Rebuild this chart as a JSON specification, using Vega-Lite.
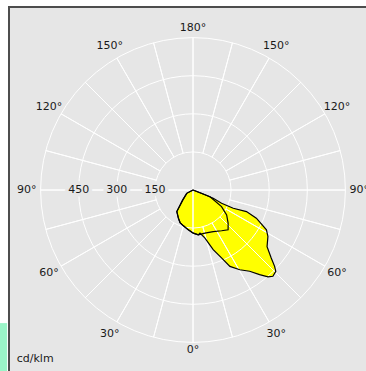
{
  "$schema": "https://vega.github.io/schema/vega-lite/v6.json",
  "width": 368,
  "height": 366,
  "autosize": "none",
  "padding": {"left": 9, "top": 7, "right": -11, "bottom": -2},
  "background": "white",
  "view": {"fill": "#e6e6e6", "stroke": "#4d4d4d", "strokeWidth": 2},
  "datasets": {
    "curves": [
      {"c": "A", "i": 0, "phi": 90, "cd": 0},
      {"c": "A", "i": 1, "phi": 68.8, "cd": 43},
      {"c": "A", "i": 2, "phi": 67.8, "cd": 86},
      {"c": "A", "i": 3, "phi": 65.1, "cd": 124},
      {"c": "A", "i": 4, "phi": 65.6, "cd": 174},
      {"c": "A", "i": 5, "phi": 68, "cd": 227},
      {"c": "A", "i": 6, "phi": 66, "cd": 273},
      {"c": "A", "i": 7, "phi": 61.5, "cd": 329},
      {"c": "A", "i": 8, "phi": 58.2, "cd": 347},
      {"c": "A", "i": 9, "phi": 52.6, "cd": 367},
      {"c": "A", "i": 10, "phi": 49, "cd": 408},
      {"c": "A", "i": 11, "phi": 46.9, "cd": 440},
      {"c": "A", "i": 12, "phi": 45.5, "cd": 457},
      {"c": "A", "i": 13, "phi": 42.8, "cd": 463},
      {"c": "A", "i": 14, "phi": 40.8, "cd": 452},
      {"c": "A", "i": 15, "phi": 38.2, "cd": 424},
      {"c": "A", "i": 16, "phi": 34.9, "cd": 390},
      {"c": "A", "i": 17, "phi": 30.4, "cd": 364},
      {"c": "A", "i": 18, "phi": 25.8, "cd": 334},
      {"c": "A", "i": 19, "phi": 22.8, "cd": 290},
      {"c": "A", "i": 20, "phi": 18.7, "cd": 248},
      {"c": "A", "i": 21, "phi": 14, "cd": 195},
      {"c": "A", "i": 22, "phi": 9.2, "cd": 172},
      {"c": "A", "i": 23, "phi": 6.7, "cd": 178},
      {"c": "A", "i": 24, "phi": 0.4, "cd": 170},
      {"c": "A", "i": 25, "phi": 353.3, "cd": 158},
      {"c": "A", "i": 26, "phi": 345, "cd": 146},
      {"c": "A", "i": 27, "phi": 338.3, "cd": 138},
      {"c": "A", "i": 28, "phi": 332.6, "cd": 125},
      {"c": "A", "i": 29, "phi": 323.1, "cd": 106},
      {"c": "A", "i": 30, "phi": 320.6, "cd": 85},
      {"c": "A", "i": 31, "phi": 314.2, "cd": 56},
      {"c": "A", "i": 32, "phi": 298, "cd": 28},
      {"c": "A", "i": 33, "phi": 270, "cd": 0},
      {"c": "B", "i": 0, "phi": 90, "cd": 0},
      {"c": "B", "i": 1, "phi": 68.5, "cd": 72},
      {"c": "B", "i": 2, "phi": 59.8, "cd": 130},
      {"c": "B", "i": 3, "phi": 53.4, "cd": 165},
      {"c": "B", "i": 4, "phi": 46.7, "cd": 190},
      {"c": "B", "i": 5, "phi": 41.4, "cd": 209},
      {"c": "B", "i": 6, "phi": 35, "cd": 196},
      {"c": "B", "i": 7, "phi": 26, "cd": 182},
      {"c": "B", "i": 8, "phi": 15.5, "cd": 176},
      {"c": "B", "i": 9, "phi": 6.7, "cd": 178},
      {"c": "B", "i": 10, "phi": 0.4, "cd": 170},
      {"c": "B", "i": 11, "phi": 353.3, "cd": 158},
      {"c": "B", "i": 12, "phi": 345, "cd": 146},
      {"c": "B", "i": 13, "phi": 338.3, "cd": 138},
      {"c": "B", "i": 14, "phi": 332.6, "cd": 125},
      {"c": "B", "i": 15, "phi": 323.1, "cd": 106},
      {"c": "B", "i": 16, "phi": 320.6, "cd": 85},
      {"c": "B", "i": 17, "phi": 314.2, "cd": 56},
      {"c": "B", "i": 18, "phi": 298, "cd": 28},
      {"c": "B", "i": 19, "phi": 270, "cd": 0}
    ],
    "rings": [{"r": 150}, {"r": 300}, {"r": 450}, {"r": 600}],
    "spokes": [
      {"phi": 0, "r1": 0, "r2": 600}, {"phi": 15, "r1": 150, "r2": 600},
      {"phi": 30, "r1": 150, "r2": 600}, {"phi": 45, "r1": 150, "r2": 600},
      {"phi": 60, "r1": 150, "r2": 600}, {"phi": 75, "r1": 150, "r2": 600},
      {"phi": 90, "r1": 0, "r2": 600}, {"phi": 105, "r1": 150, "r2": 600},
      {"phi": 120, "r1": 150, "r2": 600}, {"phi": 135, "r1": 150, "r2": 600},
      {"phi": 150, "r1": 150, "r2": 600}, {"phi": 165, "r1": 150, "r2": 600},
      {"phi": 180, "r1": 0, "r2": 600}, {"phi": 195, "r1": 150, "r2": 600},
      {"phi": 210, "r1": 150, "r2": 600}, {"phi": 225, "r1": 150, "r2": 600},
      {"phi": 240, "r1": 150, "r2": 600}, {"phi": 255, "r1": 150, "r2": 600},
      {"phi": 270, "r1": 0, "r2": 600}, {"phi": 285, "r1": 150, "r2": 600},
      {"phi": 300, "r1": 150, "r2": 600}, {"phi": 315, "r1": 150, "r2": 600},
      {"phi": 330, "r1": 150, "r2": 600}, {"phi": 345, "r1": 150, "r2": 600}
    ],
    "angleLabels": [
      {"label": "0°", "phi": 0, "r": 630},
      {"label": "30°", "phi": 30, "r": 655},
      {"label": "60°", "phi": 60, "r": 655},
      {"label": "90°", "phi": 90, "r": 655},
      {"label": "120°", "phi": 120, "r": 655},
      {"label": "150°", "phi": 150, "r": 655},
      {"label": "180°", "phi": 180, "r": 638},
      {"label": "150°", "phi": 210, "r": 655},
      {"label": "120°", "phi": 240, "r": 655},
      {"label": "90°", "phi": 270, "r": 655},
      {"label": "60°", "phi": 300, "r": 655},
      {"label": "30°", "phi": 330, "r": 655}
    ],
    "ringLabels": [
      {"label": "150", "phi": 270, "r": 150},
      {"label": "300", "phi": 270, "r": 300},
      {"label": "450", "phi": 270, "r": 450}
    ]
  },
  "layer": [
    {
      "data": {"values": [{"k": "strip"}]},
      "mark": {"type": "rect", "color": "#9af5c8", "clip": false},
      "encoding": {
        "x": {"datum": -760, "type": "quantitative", "scale": {"domain": [-724.4, 724.4], "nice": false, "zero": false}, "axis": null},
        "x2": {"datum": -732},
        "y": {"datum": -524, "type": "quantitative", "scale": {"domain": [-720.5, 720.5], "nice": false, "zero": false}, "axis": null},
        "y2": {"datum": -730}
      }
    },
    {
      "data": {"name": "curves"},
      "transform": [
        {"filter": "datum.c === 'A'"},
        {"calculate": "datum.cd * sin(datum.phi * PI / 180)", "as": "x"},
        {"calculate": "-datum.cd * cos(datum.phi * PI / 180)", "as": "y"}
      ],
      "mark": {"type": "line", "fill": "#ffff00", "strokeWidth": 0, "strokeOpacity": 0},
      "encoding": {
        "x": {"field": "x", "type": "quantitative", "axis": null},
        "y": {"field": "y", "type": "quantitative", "axis": null},
        "order": {"field": "i"}
      }
    },
    {
      "data": {"name": "curves"},
      "transform": [
        {"filter": "datum.c === 'B'"},
        {"calculate": "datum.cd * sin(datum.phi * PI / 180)", "as": "x"},
        {"calculate": "-datum.cd * cos(datum.phi * PI / 180)", "as": "y"}
      ],
      "mark": {"type": "line", "fill": "#ffff00", "strokeWidth": 0, "strokeOpacity": 0},
      "encoding": {
        "x": {"field": "x", "type": "quantitative", "axis": null},
        "y": {"field": "y", "type": "quantitative", "axis": null},
        "order": {"field": "i"}
      }
    },
    {
      "data": {"name": "rings"},
      "mark": {"type": "arc", "filled": false, "stroke": "#ffffff", "strokeWidth": 1, "theta": 0, "theta2": 6.2832},
      "encoding": {
        "radius": {"field": "r", "type": "quantitative", "stack": null, "scale": {"type": "linear", "domain": [0, 600], "range": [0, 152.4], "zero": true, "nice": false}}
      }
    },
    {
      "data": {"name": "spokes"},
      "mark": {"type": "arc", "filled": false, "stroke": "#ffffff", "strokeWidth": 1},
      "encoding": {
        "theta": {"field": "phi", "type": "quantitative", "stack": null, "scale": {"domain": [0, 360], "range": [3.14159265, -3.14159265], "nice": false, "zero": false}},
        "theta2": {"field": "phi"},
        "radius": {"field": "r1", "type": "quantitative", "stack": null},
        "radius2": {"field": "r2"}
      }
    },
    {
      "data": {"name": "curves"},
      "transform": [
        {"filter": "datum.c === 'A'"},
        {"calculate": "datum.cd * sin(datum.phi * PI / 180)", "as": "x"},
        {"calculate": "-datum.cd * cos(datum.phi * PI / 180)", "as": "y"}
      ],
      "mark": {"type": "line", "stroke": "#000000", "strokeWidth": 1.2},
      "encoding": {
        "x": {"field": "x", "type": "quantitative", "axis": null},
        "y": {"field": "y", "type": "quantitative", "axis": null},
        "order": {"field": "i"}
      }
    },
    {
      "data": {"name": "curves"},
      "transform": [
        {"filter": "datum.c === 'B'"},
        {"calculate": "datum.cd * sin(datum.phi * PI / 180)", "as": "x"},
        {"calculate": "-datum.cd * cos(datum.phi * PI / 180)", "as": "y"}
      ],
      "mark": {"type": "line", "stroke": "#000000", "strokeWidth": 1.2},
      "encoding": {
        "x": {"field": "x", "type": "quantitative", "axis": null},
        "y": {"field": "y", "type": "quantitative", "axis": null},
        "order": {"field": "i"}
      }
    },
    {
      "data": {"name": "ringLabels"},
      "mark": {"type": "text", "font": "DejaVu Sans", "fontSize": 11, "align": "center", "baseline": "middle", "fill": "#e6e6e6", "stroke": "#e6e6e6", "strokeWidth": 7},
      "encoding": {
        "text": {"field": "label"},
        "theta": {"field": "phi", "type": "quantitative", "stack": null},
        "radius": {"field": "r", "type": "quantitative", "stack": null}
      }
    },
    {
      "data": {"name": "ringLabels"},
      "mark": {"type": "text", "font": "DejaVu Sans", "fontSize": 11, "align": "center", "baseline": "middle", "color": "#1a1a1a"},
      "encoding": {
        "text": {"field": "label"},
        "theta": {"field": "phi", "type": "quantitative", "stack": null},
        "radius": {"field": "r", "type": "quantitative", "stack": null}
      }
    },
    {
      "data": {"name": "angleLabels"},
      "mark": {"type": "text", "font": "DejaVu Sans", "fontSize": 11, "align": "center", "baseline": "middle", "color": "#1a1a1a"},
      "encoding": {
        "text": {"field": "label"},
        "theta": {"field": "phi", "type": "quantitative", "stack": null},
        "radius": {"field": "r", "type": "quantitative", "stack": null}
      }
    },
    {
      "data": {"values": [{"label": "cd/klm"}]},
      "mark": {"type": "text", "font": "DejaVu Sans", "fontSize": 11, "align": "left", "baseline": "middle", "color": "#1a1a1a"},
      "encoding": {
        "text": {"field": "label"},
        "x": {"datum": -694, "type": "quantitative"},
        "y": {"datum": -667, "type": "quantitative"}
      }
    }
  ]
}
